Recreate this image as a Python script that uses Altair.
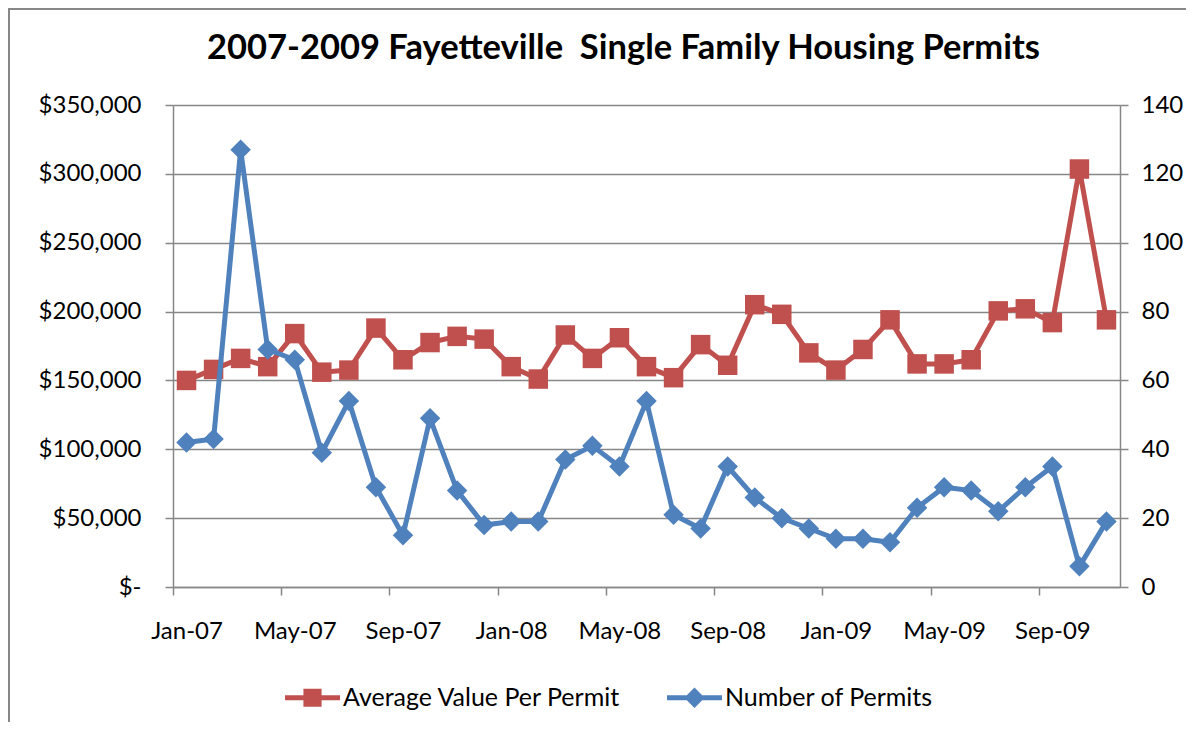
import altair as alt
import pandas as pd

months = ["Jan-07", "Feb-07", "Mar-07", "Apr-07", "May-07", "Jun-07", "Jul-07", "Aug-07",
          "Sep-07", "Oct-07", "Nov-07", "Dec-07", "Jan-08", "Feb-08", "Mar-08", "Apr-08",
          "May-08", "Jun-08", "Jul-08", "Aug-08", "Sep-08", "Oct-08", "Nov-08", "Dec-08",
          "Jan-09", "Feb-09", "Mar-09", "Apr-09", "May-09", "Jun-09", "Jul-09", "Aug-09",
          "Sep-09", "Oct-09", "Nov-09"]
avg_value = [150000, 158000, 166000, 160000, 184000, 156000, 157500, 188000, 165000, 177500,
             182000, 180000, 160000, 151000, 183000, 166000, 181000, 160000, 152000, 176000,
             161000, 205000, 198000, 170000, 157500, 172500, 194000, 162000, 162000, 165000,
             200500, 202000, 192000, 303500, 194000]
num_permits = [42, 43, 127, 69, 66, 39, 54, 29, 15, 49, 28, 18, 19, 19, 37, 41, 35, 54, 21, 17,
               35, 26, 20, 17, 14, 14, 13, 23, 29, 28, 22, 29, 35, 6, 19]
tick_labels = ["Jan-07", "May-07", "Sep-07", "Jan-08", "May-08", "Sep-08", "Jan-09", "May-09", "Sep-09"]
series_names = ["Average Value Per Permit", "Number of Permits"]
title_text = "2007-2009 Fayetteville\u00a0 Single Family Housing Permits"

RED = "#C0504D"
BLUE = "#4F81BD"
GRID = "#878787"
FONT = "Lato"

n = len(months)
df = pd.DataFrame({"i": list(range(n)), "month": months, "avg": avg_value, "num": num_permits})
legend_df = pd.DataFrame({"series": series_names})

W, H = 947, 482
cat_w = W / n

tick_vals = [k - 0.5 for k in range(0, n, 4)]
label_arr = "[" + ",".join("'" + t + "'" for t in tick_labels) + "]"

x_enc = alt.X(
    "i:Q",
    scale=alt.Scale(domain=[-0.5, n - 0.5], nice=False, zero=False),
    axis=alt.Axis(
        values=tick_vals,
        labelExpr=label_arr + "[round((datum.value + 0.5) / 4)]",
        labelOffset=cat_w / 2,
        labelAlign="center",
        labelFlush=False,
        labelOverlap=False,
        grid=False,
        title=None,
        tickSize=8,
        labelPadding=24,
    ),
)

left_axis = alt.Axis(
    values=list(range(0, 350001, 50000)),
    labelExpr="datum.value == 0 ? '$-\u00a0\u00a0' : '$' + format(datum.value, ',')",
    grid=True,
    title=None,
    tickSize=8,
    labelPadding=24,
    orient="left",
)
y_left = alt.Y("avg:Q", scale=alt.Scale(domain=[0, 350000], nice=False), axis=left_axis)

right_axis = alt.Axis(
    values=list(range(0, 141, 20)),
    grid=False,
    title=None,
    tickSize=8,
    labelPadding=13,
    orient="right",
)
y_right = alt.Y("num:Q", scale=alt.Scale(domain=[0, 140], nice=False), axis=right_axis)

base = alt.Chart(df)
red_line = base.mark_line(color=RED, strokeWidth=5).encode(x=x_enc, y=y_left)
red_pts = base.mark_point(shape="square", filled=True, color=RED, size=380, opacity=1).encode(x=x_enc, y=y_left)
blue_line = base.mark_line(color=BLUE, strokeWidth=5).encode(x=x_enc, y=y_right)
blue_pts = base.mark_point(shape="diamond", filled=True, color=BLUE, size=420, opacity=1).encode(x=x_enc, y=y_right)

left_layer = alt.layer(red_line, red_pts)
right_layer = alt.layer(blue_line, blue_pts)

sq_path = "M-1,-0.09H1V0.09H-1Z M-0.33,-0.33H0.33V0.33H-0.33Z"
di_path = "M-1,-0.09H1V0.09H-1Z M0,-0.37L0.37,0L0,0.37L-0.37,0Z"

legend = alt.Legend(
    title=None,
    orient="none",
    direction="horizontal",
    legendX=112,
    legendY=565,
    symbolSize=3025,
    symbolStrokeWidth=0,
    labelFontSize=25,
    labelFont=FONT,
    labelColor="black",
    labelOffset=3,
    columnPadding=46,
    padding=0,
    labelLimit=400,
)
proxy = alt.Chart(legend_df).transform_filter("false").mark_point(filled=True, opacity=1).encode(
    color=alt.Color("series:N", scale=alt.Scale(domain=series_names, range=[RED, BLUE]), legend=legend),
    shape=alt.Shape("series:N", scale=alt.Scale(domain=series_names, range=[sq_path, di_path]), legend=legend),
)

frame = alt.Chart(pd.DataFrame({"k": [0]})).mark_rect(fill=None, stroke=GRID, strokeWidth=2).encode(
    x=alt.value(-164), x2=alt.value(1100), y=alt.value(-96), y2=alt.value(700)
)

chart = (
    alt.layer(frame, left_layer, right_layer, proxy)
    .resolve_scale(y="independent")
    .properties(
        width=W,
        height=H,
        autosize=alt.AutoSizeParams(type="none"),
        padding={"left": 165, "top": 97, "right": 66, "bottom": 135},
        title=alt.TitleParams(
            title_text,
            fontSize=34.5,
            fontWeight="bold",
            font=FONT,
            color="black",
            anchor="middle",
            frame="group",
            baseline="alphabetic",
            dx=-23,
            offset=-85,
        ),
    )
    .configure_view(stroke=None)
    .configure_axis(
        labelFont=FONT,
        labelFontSize=24,
        labelColor="black",
        domainColor=GRID,
        domainWidth=1.5,
        tickColor=GRID,
        tickWidth=1.5,
        gridColor=GRID,
        gridWidth=1.3,
    )
)

chart.save("out.html", embed_options={"renderer": "svg", "actions": False})
